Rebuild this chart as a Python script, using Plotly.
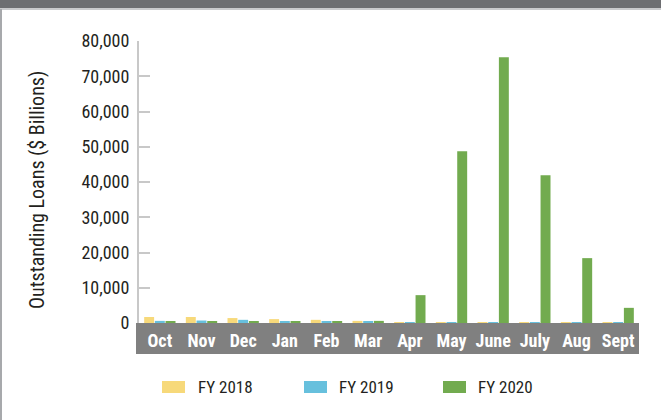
import plotly.graph_objects as go

months = ["Oct", "Nov", "Dec", "Jan", "Feb", "Mar", "Apr", "May", "June", "July", "Aug", "Sept"]
fy2018 = [1700, 1700, 1400, 1100, 900, 600, 200, 200, 200, 200, 200, 200]
fy2019 = [600, 700, 900, 300, 300, 300, 200, 200, 200, 200, 200, 200]
fy2020 = [300, 300, 300, 300, 300, 600, 7900, 48700, 75400, 41900, 18400, 4300]
series_names = ["FY 2018", "FY 2019", "FY 2020"]
colors = ["#f7d97a", "#67c0dd", "#72ab4f"]
y_ticks = [0, 10000, 20000, 30000, 40000, 50000, 60000, 70000, 80000]

W, H = 661, 420
L, R, T, B = 139, 22, 41, 97
PW, PH = W - L - R, H - T - B
FONT = "Roboto Condensed, Liberation Sans Narrow, Arial Narrow, sans-serif"
TXT = "#231f20"


def px_x(x):
    return (x - L) / PW


def px_y(y):
    return (H - B - y) / PH


fig = go.Figure()
for name, vals, col in zip(series_names, [fy2018, fy2019, fy2020], colors):
    fig.add_trace(go.Bar(x=months, y=vals, name=name, marker_color=col,
                         marker_line_width=0, showlegend=False, hoverinfo="skip"))

shapes = [
    dict(type="rect", xref="paper", yref="paper", x0=px_x(136), x1=px_x(639),
         y0=px_y(354), y1=px_y(323), fillcolor="#808080", line_width=0, layer="below"),
    dict(type="rect", xref="paper", yref="paper", x0=px_x(-2), x1=px_x(663),
         y0=px_y(8), y1=px_y(-2), fillcolor="#6d6e71", line_width=0, layer="below"),
    dict(type="line", xref="paper", yref="paper", x0=px_x(-2), x1=px_x(663),
         y0=px_y(9), y1=px_y(9), line=dict(color="#c9cacc", width=2), layer="below"),
    dict(type="line", xref="paper", yref="paper", x0=px_x(1), x1=px_x(1),
         y0=px_y(9), y1=px_y(422), line=dict(color="#a7a9ac", width=2), layer="below"),
]
annotations = [
    dict(text="Outstanding Loans ($ Billions)", xref="paper", yref="paper",
         x=px_x(37), y=px_y(190), textangle=-90, showarrow=False,
         font=dict(family=FONT, size=20, color=TXT),
         xanchor="center", yanchor="middle"),
]
legend_x = [(162, 196), (304, 337), (443, 476)]
for (sx, tx), name, col in zip(legend_x, series_names, colors):
    shapes.append(dict(type="rect", xref="paper", yref="paper",
                       x0=px_x(sx), x1=px_x(sx + 23), y0=px_y(393), y1=px_y(381),
                       fillcolor=col, line_width=0))
    annotations.append(dict(text=name, xref="paper", yref="paper",
                            x=px_x(tx), y=px_y(387), showarrow=False,
                            xanchor="left", yanchor="middle",
                            font=dict(family=FONT, size=17, color=TXT)))

fig.update_layout(
    width=W, height=H,
    margin=dict(l=L, r=R, t=T, b=B, autoexpand=False),
    paper_bgcolor="white", plot_bgcolor="white",
    barmode="group", bargap=0.23, bargroupgap=0.07,
    shapes=shapes, annotations=annotations,
    font=dict(family=FONT, color=TXT),
    hovermode=False,
    xaxis=dict(type="category", showgrid=False, showline=False, zeroline=False,
               ticks="", tickfont=dict(family=FONT, size=18, color="white", weight="bold"),
               ticklabelstandoff=5, fixedrange=True),
    yaxis=dict(range=[0, 80000], tickvals=y_ticks, tickformat=",", showgrid=False,
               zeroline=False, showline=True, linecolor="#c8c8c8", linewidth=2,
               ticks="inside", ticklen=11, tickcolor="#c8c8c8", tickwidth=2,
               tickfont=dict(family=FONT, size=18, color=TXT),
               ticklabelstandoff=4, fixedrange=True),
)

fig.write_html("out.html", config={"displayModeBar": False},
               post_script="document.body.style.margin='0';")
